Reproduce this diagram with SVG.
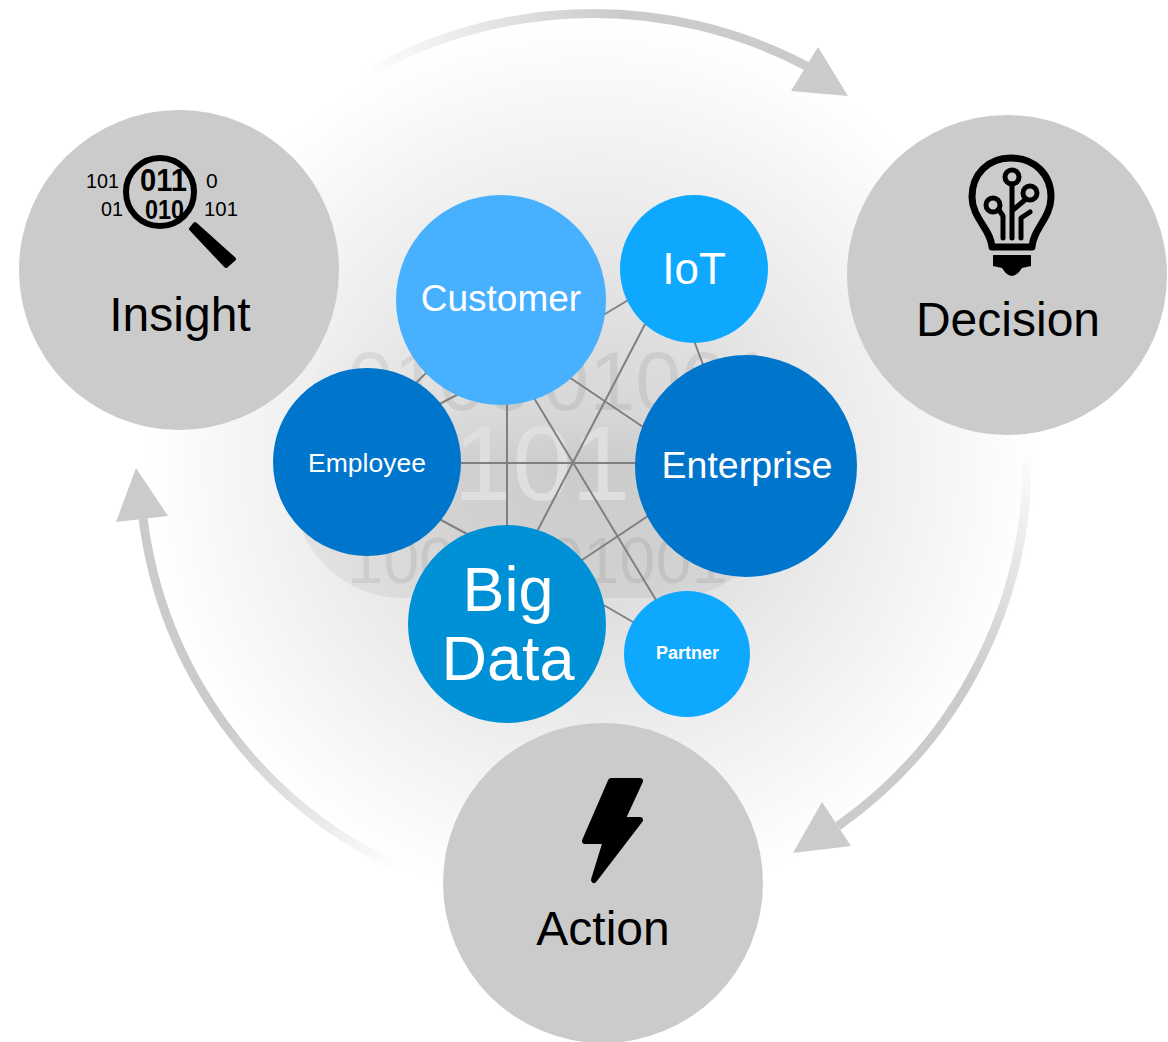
<svg xmlns="http://www.w3.org/2000/svg" width="1168" height="1042" viewBox="0 0 1168 1042">
<style>
text{font-family:"Liberation Sans",Arial,sans-serif}
.c{text-anchor:middle}
.w{fill:#fff}
.lbl{font-size:48px;fill:#000;text-anchor:middle}
.grey{fill:#cbcbcb}
.link{stroke:#808080;stroke-width:2;fill:none}
.arc{fill:none;stroke-width:9}
.bg1{font-size:83px;fill:#000;fill-opacity:.07}
.bg2{font-size:65px;fill:#000;fill-opacity:.07}
.ic{fill:none;stroke:#000;stroke-linecap:round;stroke-linejoin:round}
</style>
<defs>
<radialGradient id="halo" gradientUnits="userSpaceOnUse" cx="590" cy="465" r="445">
<stop offset="0" stop-color="#d8d8d8"/><stop offset="0.3" stop-color="#dedede"/><stop offset="0.5" stop-color="#e8e8e8"/><stop offset="1" stop-color="#fff"/>
</radialGradient>
<linearGradient id="blob" gradientUnits="userSpaceOnUse" x1="0" y1="330" x2="0" y2="598">
<stop offset="0" stop-color="#000" stop-opacity="0"/><stop offset="0.3" stop-color="#000" stop-opacity=".015"/><stop offset="0.5" stop-color="#000" stop-opacity=".06"/><stop offset="1" stop-color="#000" stop-opacity=".055"/>
</linearGradient>
<linearGradient id="a1" gradientUnits="userSpaceOnUse" x1="360" y1="65" x2="620" y2="20"><stop offset="0" stop-color="#cbcbcb" stop-opacity="0"/><stop offset="1" stop-color="#cbcbcb"/></linearGradient>
<linearGradient id="a2" gradientUnits="userSpaceOnUse" x1="1030" y1="450" x2="960" y2="680"><stop offset="0" stop-color="#cbcbcb" stop-opacity="0"/><stop offset="1" stop-color="#cbcbcb"/></linearGradient>
<linearGradient id="a3" gradientUnits="userSpaceOnUse" x1="400" y1="865" x2="230" y2="720"><stop offset="0" stop-color="#cbcbcb" stop-opacity="0"/><stop offset="1" stop-color="#cbcbcb"/></linearGradient>
</defs>
<g id="background">
<circle cx="590" cy="465" r="445" fill="url(#halo)"/>
<rect x="293" y="330" width="487" height="268" rx="110" fill="url(#blob)"/>
<text class="bg1" x="347" y="410">0100</text>
<text class="bg1" x="543" y="410">01001</text>
<text class="bg2" x="347" y="583">100</text>
<text class="bg2" x="547" y="583">01001</text>
<text class="c" x="542" y="500" font-size="106" fill="#dfdfdf">101</text>
</g>
<g id="cycle-arrows">
<path class="arc" stroke="url(#a1)" d="M340 90A458 458 0 0 1 812 69"/>
<polygon class="grey" points="848,96 818,47 791,91"/>
<path class="arc" stroke="url(#a2)" d="M1027 450A446 446 0 0 1 838 826"/>
<polygon class="grey" points="793,853 822,802 851,846"/>
<path class="arc" stroke="url(#a3)" d="M400 868A446 446 0 0 1 143 518"/>
<polygon class="grey" points="136,468 116,522 168,516"/>
</g>
<g id="connectors">
<line class="link" x1="450" y1="463" x2="650" y2="463"/>
<line class="link" x1="507" y1="395" x2="507" y2="535"/>
<line class="link" x1="528" y1="388" x2="662" y2="610"/>
<line class="link" x1="655" y1="305" x2="530" y2="545"/>
<line class="link" x1="560" y1="371" x2="655" y2="435"/>
<line class="link" x1="660" y1="508" x2="570" y2="568"/>
<line class="link" x1="410" y1="389" x2="435" y2="364"/>
<line class="link" x1="430" y1="409" x2="470" y2="388"/>
<line class="link" x1="430" y1="514" x2="480" y2="541"/>
<line class="link" x1="595" y1="320" x2="640" y2="293"/>
<line class="link" x1="690" y1="330" x2="708" y2="378"/>
<line class="link" x1="595" y1="600" x2="645" y2="629"/>
</g>
<g id="insight">
<circle class="grey" cx="179" cy="270" r="160"/>
<text class="lbl" x="180" y="331">Insight</text>
<g id="insight-icon">
<text x="86" y="188" font-size="21" textLength="33" lengthAdjust="spacingAndGlyphs">101</text>
<text x="101" y="216" font-size="21" textLength="22" lengthAdjust="spacingAndGlyphs">01</text>
<text x="206" y="188" font-size="21">0</text>
<text x="204" y="216" font-size="21" textLength="34" lengthAdjust="spacingAndGlyphs">101</text>
<text x="140" y="191" font-size="32" font-weight="bold" textLength="47" lengthAdjust="spacingAndGlyphs">011</text>
<text x="145" y="219" font-size="27" font-weight="bold" textLength="39" lengthAdjust="spacingAndGlyphs">010</text>
<circle class="ic" cx="160" cy="192" r="34" stroke-width="6"/>
<path d="M195 224L191 229L226 266L234 259Z" stroke="#000" stroke-width="4" stroke-linejoin="round"/>
</g>
</g>
<g id="decision">
<circle class="grey" cx="1007" cy="275" r="160"/>
<text class="lbl" x="1008" y="336">Decision</text>
<g id="decision-icon">
<path class="ic" stroke-width="7" d="M992 247C991 229 972 218 972 197C972 174 988 158 1011 158C1034 158 1051 174 1051 197C1051 218 1033 229 1032 247Z"/>
<circle class="ic" cx="1012" cy="177" r="7" stroke-width="5"/>
<circle class="ic" cx="1030" cy="193" r="7" stroke-width="5"/>
<circle class="ic" cx="993" cy="205" r="7" stroke-width="5"/>
<path class="ic" stroke-width="5" d="M1012 184V238M1026 199L1013 210M999 210L1003 216V238M1030 212L1021 218V238"/>
<path d="M993 255H1031V266L1022 268Q1012 284 1002 268L993 266Z"/>
</g>
</g>
<g id="action">
<circle class="grey" cx="603" cy="883" r="160"/>
<text class="lbl" x="603" y="945">Action</text>
<path id="action-icon" d="M611 781H640L622 820H640L594 880L606 841H585Z" stroke="#000" stroke-width="6" stroke-linejoin="round"/>
</g>
<g id="customer"><circle cx="501" cy="300" r="105" fill="#47b0ff"/><text class="c w" x="501" y="311" font-size="37">Customer</text></g>
<g id="iot"><circle cx="694" cy="269" r="74" fill="#0fa8ff"/><text class="c w" x="694" y="284" font-size="44">IoT</text></g>
<g id="enterprise"><circle cx="746" cy="466" r="111" fill="#0075cc"/><text class="c w" x="747" y="478" font-size="37.5">Enterprise</text></g>
<g id="employee"><circle cx="367" cy="462" r="94" fill="#0075cc"/><text class="c w" x="367" y="472" font-size="26.5">Employee</text></g>
<g id="big-data"><circle cx="507" cy="624" r="99" fill="#0090d6"/><text class="c w" font-size="63"><tspan x="508" y="611">Big</tspan><tspan x="508" y="680">Data</tspan></text></g>
<g id="partner"><circle cx="687" cy="654" r="63" fill="#0fa8ff"/><text class="c w" x="687.5" y="659" font-size="18" font-weight="bold">Partner</text></g>
</svg>
